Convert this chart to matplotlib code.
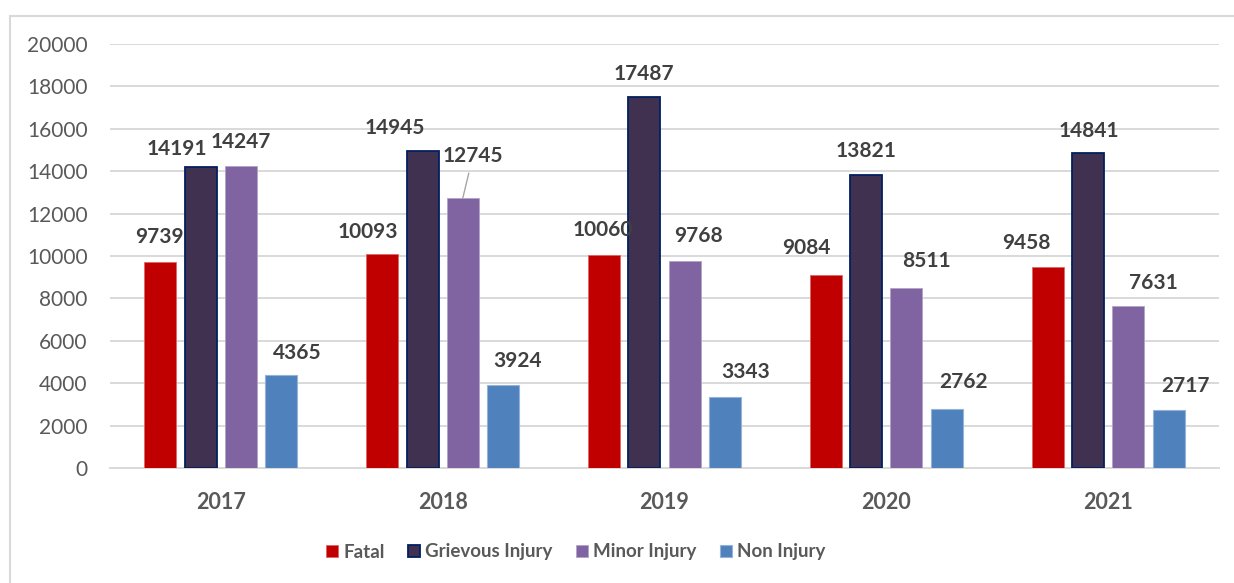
import matplotlib.pyplot as plt
import numpy as np
from matplotlib.patches import Rectangle

# 数据
years = ['2017', '2018', '2019', '2020', '2021']
fatal = [9739, 10093, 10060, 9084, 9458]
grievous = [14191, 14945, 17487, 13821, 14841]
minor = [14247, 12745, 9768, 8511, 7631]
non_injury = [4365, 3924, 3343, 2762, 2717]
series_names = ['Fatal', 'Grievous Injury', 'Minor Injury', 'Non Injury']

# 样式
face_colors = ['#C00000', '#403151', '#8064A2', '#4F81BD']
edge_colors = ['#E06666', '#002060', '#B3A2C7', '#95B3D7']
edge_widths = [0.6, 1.3, 0.6, 0.8]
# 数据标签的手动偏移（像素）：Excel 里被拖动过
label_offsets = [
    [(-1, 26), (-14, 24), (-1, 26), (-20, 29), (-21, 26)],
    [(-24, 20), (-28, 25), (0, 25), (0, 25), (1, 24)],
    [(0, 25), (10, 43), (14, 26), (20, 28), (25, 25)],
    [(16, 24), (14, 25), (21, 27), (17, 29), (17, 26)],
]

plt.rcParams['font.family'] = ['Lato', 'DejaVu Sans']

fig = plt.figure(figsize=(12.34, 5.83), dpi=100)
ax = fig.add_axes([110 / 1234, 1 - 468 / 583, (1219 - 110) / 1234, (468 - 44) / 583])

x = np.arange(len(years))
width = 0.1443
step = 0.1817
all_series = [fatal, grievous, minor, non_injury]

for i, vals in enumerate(all_series):
    pos = x + (i - 1.5) * step
    ax.bar(pos, vals, width, color=face_colors[i], edgecolor=edge_colors[i],
           linewidth=edge_widths[i], label=series_names[i], zorder=3)
    for j, v in enumerate(vals):
        dx, dy = label_offsets[i][j]
        kw = {}
        if i == 2 and j == 1:
            kw['arrowprops'] = dict(arrowstyle='-', color='#A6A6A6', lw=1.0,
                                    shrinkA=3, shrinkB=0)
        ax.annotate(str(v), xy=(pos[j], v), xytext=(dx, dy - 7.5),
                    textcoords='offset pixels', ha='center', va='baseline',
                    fontsize=15, fontweight='bold', color='#404040',
                    annotation_clip=False, zorder=5, **kw)

ax.set_xlim(-0.5, 4.5)
ax.set_ylim(0, 20000)
ax.set_yticks(np.arange(0, 20001, 2000))
ax.set_xticks(x)
ax.set_xticklabels(years, fontweight='bold')
ax.tick_params(axis='y', length=0, pad=16, labelsize=15, labelcolor='#595959')
ax.tick_params(axis='x', length=0, pad=17, labelsize=15.5, labelcolor='#595959')
ax.grid(axis='y', color='#D9D9D9', linewidth=1.4, zorder=0)
ax.set_axisbelow(True)
for s in ['top', 'right', 'left']:
    ax.spines[s].set_visible(False)
ax.spines['bottom'].set_color('#D9D9D9')
ax.spines['bottom'].set_linewidth(1.4)

leg = fig.legend(loc='center', bbox_to_anchor=(576 / 1234, 1 - 552 / 583), ncol=4,
                 frameon=False, handlelength=0.64, handleheight=0.64,
                 handletextpad=0.27, columnspacing=1.25,
                 prop={'size': 13.5, 'weight': 'bold'})
for t in leg.get_texts():
    t.set_color('#595959')

# 图表外框
fig.patches.append(Rectangle((10 / 1234, -0.2), 1.1, 1.2 - 15.5 / 583,
                             transform=fig.transFigure, fill=False,
                             edgecolor='#D9D9D9', linewidth=1.5))

fig.savefig('out.png', dpi=100)
